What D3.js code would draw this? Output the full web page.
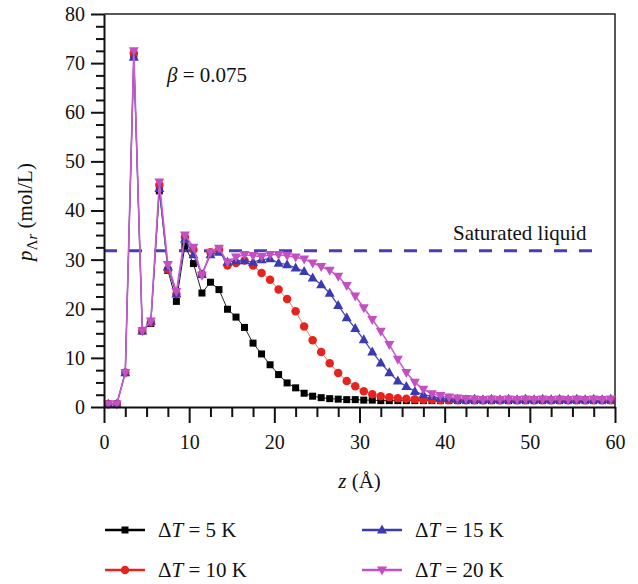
<!DOCTYPE html>
<html>
<head>
<meta charset="utf-8">
<style>
  body { margin: 0; background: #fff; }
  text { font-family: "Liberation Serif", "Times New Roman", serif; fill: #111; }
  .axis path, .axis line { stroke: #111; stroke-width: 2px; }
  .axis text { font-size: 20px; }
</style>
</head>
<body>
<script src="https://cdnjs.cloudflare.com/ajax/libs/d3/7.8.5/d3.min.js"></script>
<script>
// distance from the wall, angstrom
var zVals = [0.5, 1.5, 2.5, 3.5, 4.5, 5.5, 6.5, 7.5, 8.5, 9.5,
  10.5, 11.5, 12.5, 13.5, 14.5, 15.5, 16.5, 17.5, 18.5, 19.5,
  20.5, 21.5, 22.5, 23.5, 24.5, 25.5, 26.5, 27.5, 28.5, 29.5,
  30.5, 31.5, 32.5, 33.5, 34.5, 35.5, 36.5, 37.5, 38.5, 39.5,
  40.5, 41.5, 42.5, 43.5, 44.5, 45.5, 46.5, 47.5, 48.5, 49.5,
  50.5, 51.5, 52.5, 53.5, 54.5, 55.5, 56.5, 57.5, 58.5, 59.5];

// density, mol/L
var dT5 = [0.6, 0.6, 7.0, 71.5, 15.5, 17.0, 44.0, 27.8, 21.5, 32.8,
  29.2, 23.2, 25.4, 23.9, 19.9, 18.3, 16.2, 13.0, 10.8, 8.6,
  6.6, 4.9, 3.9, 2.8, 2.2, 1.9, 1.7, 1.6, 1.5, 1.5,
  1.4, 1.4, 1.3, 1.3, 1.3, 1.3, 1.3, 1.3, 1.3, 1.3,
  1.3, 1.3, 1.3, 1.3, 1.3, 1.3, 1.3, 1.3, 1.3, 1.3,
  1.3, 1.3, 1.3, 1.3, 1.3, 1.3, 1.3, 1.3, 1.3, 1.3];
var dT10 = [0.6, 0.6, 7.0, 72.0, 15.5, 17.2, 45.2, 28.0, 23.0, 34.6,
  32.0, 27.0, 31.5, 32.0, 28.8, 29.3, 29.8, 28.8, 27.3, 25.9,
  23.9, 22.0, 19.5, 16.4, 13.6, 11.2, 8.9, 6.9, 5.3, 4.2,
  3.2, 2.6, 2.2, 2.0, 1.8, 1.7, 1.6, 1.5, 1.5, 1.4,
  1.4, 1.4, 1.4, 1.4, 1.4, 1.4, 1.4, 1.4, 1.4, 1.4,
  1.4, 1.4, 1.4, 1.4, 1.4, 1.4, 1.4, 1.4, 1.4, 1.4];
var dT15 = [0.6, 0.6, 7.0, 71.2, 15.5, 17.5, 44.5, 28.5, 23.0, 34.2,
  31.0, 27.0, 31.0, 31.5, 29.5, 29.8, 29.8, 29.5, 30.0, 30.2,
  29.3, 29.0, 28.3, 27.6, 26.3, 24.9, 23.2, 20.7, 18.2, 16.0,
  13.7, 11.2, 9.0, 7.0, 5.3, 4.2, 3.2, 2.5, 2.2, 1.8,
  1.7, 1.6, 1.5, 1.6, 1.5, 1.6, 1.5, 1.6, 1.5, 1.6,
  1.5, 1.6, 1.5, 1.6, 1.5, 1.6, 1.5, 1.6, 1.5, 1.6];
var dT20 = [0.6, 0.6, 7.0, 72.5, 15.5, 17.5, 45.8, 29.0, 23.5, 35.0,
  32.5, 26.8, 31.5, 32.3, 29.5, 30.5, 31.0, 30.8, 30.6, 31.0,
  31.0, 30.8, 30.5, 30.1, 29.3, 28.6, 27.8, 26.6, 24.7, 22.6,
  20.2, 17.8, 15.4, 12.7, 9.7, 7.0, 5.0, 3.6, 2.7, 2.3,
  2.0, 1.8, 1.7, 1.6, 1.5, 1.6, 1.5, 1.6, 1.5, 1.6,
  1.5, 1.6, 1.5, 1.6, 1.5, 1.6, 1.5, 1.6, 1.5, 1.6];

var seriesNames = ["5", "10", "15", "20"];
var seriesData = [dT5, dT10, dT15, dT20];

var xTicks = [0, 10, 20, 30, 40, 50, 60];
var yTicks = [0, 10, 20, 30, 40, 50, 60, 70, 80];

var satLevel = 31.8;       // saturated liquid density
var satExtent = [0, 58.6];

(function() {
var width = 638, height = 584;
var mLeft = 104, mRight = 615, mTop = 14, mBottom = 407;

var svg = d3.select("body").append("svg")
  .attr("width", width)
  .attr("height", height);

var x = d3.scaleLinear().domain([0, 60]).range([mLeft, mRight]);
var y = d3.scaleLinear().domain([0, 80]).range([mBottom, mTop]);

var styles = [
  { color: "#000000", line: "#222222", lw: 1, marker: "square" },
  { color: "#e5251d", line: "#f07a5c", lw: 1, marker: "circle" },
  { color: "#3b3ab2", line: "#4a49bb", lw: 1.3, marker: "up" },
  { color: "#c44fc2", line: "#c95ccc", lw: 1.6, marker: "down" }
];

// frame (top and right)
svg.append("path")
  .attr("d", "M" + mLeft + "," + mTop + "H" + mRight + "V" + mBottom)
  .attr("fill", "none")
  .attr("stroke", "#222")
  .attr("stroke-width", 1.5);

// saturated liquid line
svg.append("line")
  .attr("x1", x(satExtent[0]))
  .attr("x2", x(satExtent[1]))
  .attr("y1", y(satLevel))
  .attr("y2", y(satLevel))
  .attr("stroke", "#4a3cb6")
  .attr("stroke-width", 3)
  .attr("stroke-dasharray", "13,12");

function markerPath(type, s) {
  if (type == "square") return d3.symbol(d3.symbolSquare, s * s)();
  if (type == "circle") return d3.symbol(d3.symbolCircle, Math.PI * (s / 2) * (s / 2))();
  var h = s * 0.9, w = s / 2;
  if (type == "up") return "M0," + (-h * 0.6) + "L" + w + "," + (h * 0.4) + "L" + (-w) + "," + (h * 0.4) + "Z";
  return "M0," + (h * 0.6) + "L" + w + "," + (-h * 0.4) + "L" + (-w) + "," + (-h * 0.4) + "Z";
}
var markerSize = { square: 7, circle: 8.5, up: 10, down: 10 };

var line = d3.line()
  .x(function(d) { return x(d[0]); })
  .y(function(d) { return y(d[1]); });

seriesData.forEach(function(vals, i) {
  var st = styles[i];
  var pts = zVals.map(function(z, j) { return [z, vals[j]]; });
  var g = svg.append("g");
  g.append("path")
    .attr("d", line(pts))
    .attr("fill", "none")
    .attr("stroke", st.line)
    .attr("stroke-width", st.lw);
  g.selectAll("path.m")
    .data(pts)
    .enter().append("path")
    .attr("class", "m")
    .attr("d", markerPath(st.marker, markerSize[st.marker]))
    .attr("transform", function(d) { return "translate(" + x(d[0]) + "," + y(d[1]) + ")"; })
    .attr("fill", st.color);
});

// axes
var xMinor = d3.range(0, 60.01, 2.5).filter(function(v) { return v % 10 != 0; });
var yMinor = d3.range(0, 80.01, 2.5).filter(function(v) { return v % 10 != 0; });

svg.append("g")
  .attr("class", "axis")
  .attr("transform", "translate(0," + mBottom + ")")
  .call(d3.axisBottom(x).tickValues(xMinor).tickSize(10).tickFormat(""))
  .call(function(g) { g.select(".domain").remove(); });

svg.append("g")
  .attr("class", "axis")
  .attr("transform", "translate(0," + mBottom + ")")
  .call(d3.axisBottom(x).tickValues(xTicks).tickSize(16).tickSizeOuter(0).tickPadding(12).tickFormat(d3.format("d")));

svg.append("g")
  .attr("class", "axis")
  .attr("transform", "translate(" + mLeft + ",0)")
  .call(d3.axisLeft(y).tickValues(yMinor).tickSize(8).tickFormat(""))
  .call(function(g) { g.select(".domain").remove(); });

svg.append("g")
  .attr("class", "axis")
  .attr("transform", "translate(" + mLeft + ",0)")
  .call(d3.axisLeft(y).tickValues(yTicks).tickSize(13).tickSizeOuter(0).tickPadding(6).tickFormat(d3.format("d")));

// axis titles
var xt = svg.append("text")
  .attr("x", (mLeft + mRight) / 2)
  .attr("y", 488)
  .attr("text-anchor", "middle")
  .style("font-size", "21px");
xt.append("tspan").style("font-style", "italic").text("z");
xt.append("tspan").text(" (Å)");

var yt = svg.append("text")
  .attr("transform", "translate(32,212) rotate(-90)")
  .attr("text-anchor", "middle")
  .style("font-size", "21px");
yt.append("tspan").style("font-style", "italic").text("p");
yt.append("tspan").attr("dy", 5).style("font-size", "15px").text("Λ");
yt.append("tspan").style("font-size", "15px").style("font-style", "italic").text("r");
yt.append("tspan").attr("dy", -5).text(" (mol/L)");

// annotations
var bt = svg.append("text")
  .attr("x", 167)
  .attr("y", 82)
  .style("font-size", "21px");
bt.append("tspan").style("font-style", "italic").text("β");
bt.append("tspan").text(" = 0.075");

svg.append("text")
  .attr("x", 453)
  .attr("y", 240)
  .style("font-size", "21px")
  .text("Saturated liquid");

// legend
var legPos = [[105, 530], [105, 570], [362, 530], [362, 570]];
seriesNames.forEach(function(name, i) {
  var st = styles[i];
  var lx = legPos[i][0], ly = legPos[i][1];
  var g = svg.append("g").attr("transform", "translate(" + lx + "," + ly + ")");
  g.append("line")
    .attr("x1", 0).attr("x2", 40)
    .attr("stroke", st.color)
    .attr("stroke-width", 2.5);
  g.append("path")
    .attr("d", markerPath(st.marker, markerSize[st.marker]))
    .attr("transform", "translate(20,0)")
    .attr("fill", st.color);
  var t = g.append("text")
    .attr("x", 53)
    .attr("y", 7)
    .style("font-size", "21px");
  t.append("tspan").text("Δ");
  t.append("tspan").style("font-style", "italic").text("T");
  t.append("tspan").text(" = " + name + " K");
});
})();
</script>
</body>
</html>
